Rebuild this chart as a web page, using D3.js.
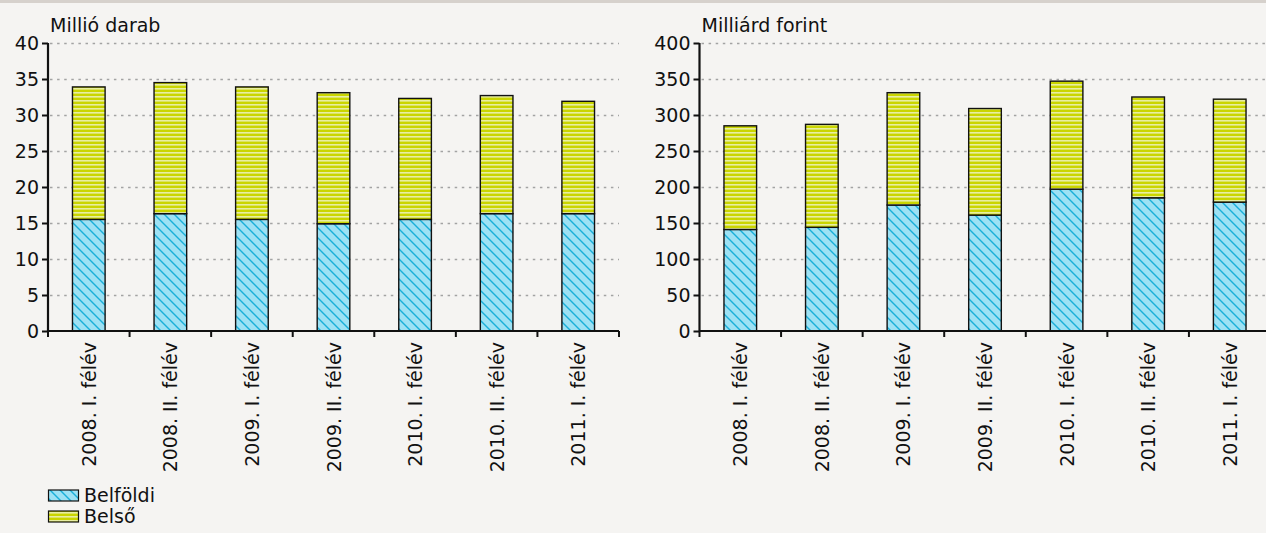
<!DOCTYPE html>
<html>
<head>
<meta charset="utf-8">
<script src="https://cdn.jsdelivr.net/npm/d3@7"></script>
<style>
  html, body { margin: 0; padding: 0; background: #f5f4f2; }
  svg { display: block; }
  text { font-family: "DejaVu Sans", Verdana, sans-serif; fill: #111; }
</style>
</head>
<body>
<svg id="chart" width="1266" height="533"></svg>
<script>
// Half-year periods shown on both panels
const categories = ["2008. I. félév", "2008. II. félév", "2009. I. félév", "2009. II. félév",
                    "2010. I. félév", "2010. II. félév", "2011. I. félév"];

// Number of transactions (million pieces)
const countBelfoldi = [15.5, 16.3, 15.5, 14.9, 15.5, 16.3, 16.3];
const countBelso    = [18.4, 18.2, 18.4, 18.2, 16.8, 16.4, 15.6];

// Value of transactions (billion HUF)
const valueBelfoldi = [141, 144, 175, 161, 197, 185, 179];
const valueBelso    = [144, 143, 156, 148, 150, 140, 143];

const countTicks = [0, 5, 10, 15, 20, 25, 30, 35, 40];
const valueTicks = [0, 50, 100, 150, 200, 250, 300, 350, 400];

const seriesNames = ["Belföldi", "Belső"];

const svg = d3.select("#chart");

// top border strip
svg.append("rect").attr("x", 0).attr("y", 0).attr("width", 1266).attr("height", 3).attr("fill", "#d6d1cc");

// fill patterns
const defs = svg.append("defs");
const hatch = defs.append("pattern").attr("id", "hatchBlue")
  .attr("patternUnits", "userSpaceOnUse").attr("width", 10).attr("height", 10);
hatch.append("rect").attr("width", 10).attr("height", 10).attr("fill", "#9de1f4");
hatch.append("path").attr("d", "M0,0 L10,10 M-5,5 L5,15 M5,-5 L15,5")
  .attr("stroke", "#19afd9").attr("stroke-width", 1.4);

const stripes = defs.append("pattern").attr("id", "stripeYellow")
  .attr("patternUnits", "userSpaceOnUse").attr("width", 10).attr("height", 4);
stripes.append("rect").attr("width", 10).attr("height", 4).attr("fill", "#cad500");
stripes.append("rect").attr("y", 0).attr("width", 10).attr("height", 1.6).attr("fill", "#e8eea2");

const fills = ["url(#hatchBlue)", "url(#stripeYellow)"];

function drawPanel(opts) {
  const g = svg.append("g");
  const x = d3.scaleBand().domain(categories)
    .range([opts.x0, opts.x0 + 571]).paddingInner(0.6).paddingOuter(0.3);
  const y = d3.scaleLinear().domain([0, opts.max]).range([331, 43]);

  // dotted gridlines
  g.selectAll("line.grid").data(opts.ticks.filter(t => t > 0)).join("line")
    .attr("x1", opts.x0 + 2).attr("x2", opts.gridEnd)
    .attr("y1", d => Math.round(y(d)) + 0.5).attr("y2", d => Math.round(y(d)) + 0.5)
    .attr("stroke", "#a3a3a3").attr("stroke-width", 1.3).attr("stroke-dasharray", "2.5,4.6");

  // stacked bars
  const rows = categories.map((c, i) => ({ cat: c, Belföldi: opts.a[i], Belső: opts.b[i] }));
  const stack = d3.stack().keys(seriesNames)(rows);
  stack.forEach((layer, li) => {
    g.selectAll(null).data(layer).join("rect")
      .attr("x", d => x(d.data.cat))
      .attr("width", x.bandwidth())
      .attr("y", d => y(d[1]))
      .attr("height", d => y(d[0]) - y(d[1]))
      .attr("fill", fills[li])
      .attr("stroke", "#111").attr("stroke-width", 1.4);
  });

  // y axis
  const yAxis = d3.axisLeft(y).tickValues(opts.ticks).tickSize(6).tickPadding(3).tickFormat(d3.format("d"));
  const ya = g.append("g").attr("transform", `translate(${opts.x0},0)`).call(yAxis);
  ya.select(".domain").remove();
  ya.selectAll(".tick line").attr("stroke", "#111").attr("stroke-width", 2);
  ya.selectAll(".tick text").style("font-size", "19px").attr("fill", "#111");
  g.append("line").attr("x1", opts.x0).attr("x2", opts.x0).attr("y1", 43).attr("y2", 332)
    .attr("stroke", "#111").attr("stroke-width", 2.2);

  // x axis with ticks at category boundaries
  const step = x.step();
  const bounds = d3.range(categories.length + 1).map(i => opts.x0 + i * step);
  g.append("line").attr("x1", opts.x0).attr("x2", opts.x0 + 571).attr("y1", 331).attr("y2", 331)
    .attr("stroke", "#111").attr("stroke-width", 2.2);
  g.selectAll("line.xt").data(bounds).join("line")
    .attr("x1", d => d).attr("x2", d => d).attr("y1", 331).attr("y2", 337)
    .attr("stroke", "#111").attr("stroke-width", 2);
  g.selectAll("text.xl").data(categories).join("text")
    .attr("transform", d => `translate(${x(d) + x.bandwidth() / 2 + 7},342) rotate(-90)`)
    .attr("text-anchor", "end")
    .style("font-size", "19px")
    .text(d => d);

  // unit title
  g.append("text").attr("x", opts.x0 + 2).attr("y", 32).style("font-size", "19px").text(opts.title);
}

drawPanel({ x0: 48, max: 40, ticks: countTicks, a: countBelfoldi, b: countBelso,
            title: "Millió darab", gridEnd: 619 });
drawPanel({ x0: 699.5, max: 400, ticks: valueTicks, a: valueBelfoldi, b: valueBelso,
            title: "Milliárd forint", gridEnd: 1266 });

// legend
const legend = svg.append("g");
seriesNames.forEach((name, i) => {
  const ly = 490 + i * 21;
  legend.append("rect").attr("x", 48.5).attr("y", ly).attr("width", 30).attr("height", 11)
    .attr("fill", fills[i]).attr("stroke", "#111").attr("stroke-width", 1.2);
  legend.append("text").attr("x", 84).attr("y", ly + 12).style("font-size", "19px").text(name);
});
</script>
</body>
</html>
